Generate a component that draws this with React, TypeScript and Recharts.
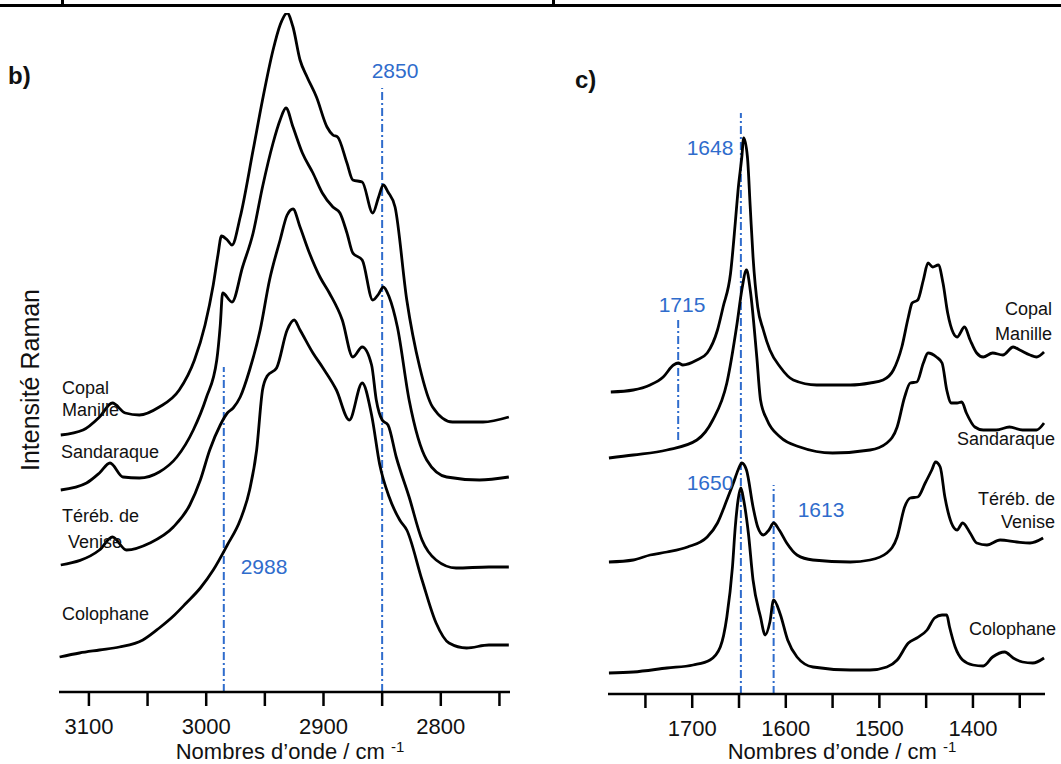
import React from "react";
import { LineChart, Line, XAxis, YAxis, ReferenceLine } from "recharts";

type Pt = [number, number];

// b) region C-H, wavenumber (cm-1) / relative intensity (stacked)
const copalCH: Pt[] = [
  [3124, 257], [3105, 262], [3091, 275], [3080, 289], [3069, 279], [3057, 277], [3040, 285],
  [3023, 302], [3010, 332], [3001, 367], [2994, 407], [2990, 437], [2987, 456], [2982, 452],
  [2978, 447], [2971, 475], [2960, 542], [2952, 592], [2943, 642], [2937, 667], [2931, 679],
  [2926, 665], [2920, 632], [2914, 615], [2906, 595], [2897, 565], [2892, 557], [2888, 555],
  [2880, 529], [2875, 512], [2867, 510], [2858, 479], [2853, 495], [2849, 507], [2845, 500],
  [2839, 485], [2829, 392], [2818, 325], [2807, 285], [2790, 270], [2764, 270], [2742, 275],
];
const sandaraqueCH: Pt[] = [
  [3124, 202], [3102, 209], [3091, 219], [3082, 229], [3071, 215], [3057, 214], [3040, 220],
  [3025, 235], [3011, 262], [3000, 294], [2991, 332], [2988, 367], [2986, 399], [2978, 390],
  [2969, 425], [2960, 459], [2952, 505], [2943, 549], [2937, 572], [2932, 584], [2926, 565],
  [2918, 539], [2909, 519], [2901, 499], [2892, 485], [2886, 479], [2880, 459], [2875, 439],
  [2867, 432], [2858, 392], [2853, 398], [2849, 405], [2844, 395], [2837, 365], [2827, 292],
  [2812, 232], [2795, 215], [2767, 212], [2742, 215],
];
const terebCH: Pt[] = [
  [3124, 127], [3091, 142], [3080, 155], [3068, 142], [3048, 149], [3028, 165], [3014, 187],
  [3005, 212], [2997, 242], [2988, 267], [2982, 279], [2977, 284], [2971, 295], [2963, 322],
  [2954, 362], [2946, 412], [2937, 452], [2931, 477], [2926, 483], [2920, 465], [2912, 439],
  [2903, 415], [2895, 399], [2884, 372], [2875, 335], [2867, 345], [2859, 327], [2855, 292],
  [2850, 272], [2845, 267], [2838, 235], [2827, 195], [2816, 152], [2804, 132], [2787, 124],
  [2759, 125], [2742, 125],
];
const colophaneCH: Pt[] = [
  [3125, 35], [3108, 39], [3091, 42], [3074, 45], [3054, 52], [3040, 64], [3027, 77],
  [3017, 89], [3005, 104], [2994, 122], [2982, 147], [2971, 172], [2963, 202], [2957, 242],
  [2952, 302], [2948, 316], [2940, 324], [2931, 362], [2925, 372], [2920, 362], [2909, 339],
  [2901, 325], [2889, 302], [2878, 272], [2867, 309], [2859, 277], [2852, 227], [2844, 195],
  [2835, 172], [2829, 162], [2816, 112], [2804, 69], [2793, 49], [2778, 44], [2759, 47],
  [2742, 47],
];

// c) region 1800-1320 cm-1
const copalCC: Pt[] = [
  [1787, 302], [1763, 304], [1745, 309], [1731, 317], [1720, 329], [1715, 331], [1710, 329],
  [1695, 334], [1684, 341], [1673, 364], [1667, 387], [1659, 421], [1654, 471], [1651, 504],
  [1647, 537], [1645, 556], [1641, 537], [1638, 487], [1635, 437], [1630, 387], [1624, 364],
  [1617, 344], [1606, 327], [1592, 314], [1567, 309], [1531, 309], [1510, 311], [1496, 314],
  [1485, 324], [1476, 347], [1469, 377], [1465, 391], [1459, 394], [1453, 414], [1448, 431],
  [1443, 427], [1437, 429], [1432, 411], [1427, 381], [1421, 361], [1417, 357], [1409, 367],
  [1403, 354], [1396, 341], [1389, 337], [1379, 341], [1368, 339], [1357, 347], [1350, 344],
  [1339, 339], [1332, 337], [1324, 342],
];
const sandaraqueCC: Pt[] = [
  [1789, 236], [1763, 239], [1727, 244], [1695, 254], [1678, 274], [1663, 311], [1652, 371],
  [1647, 404], [1642, 424], [1638, 404], [1631, 337], [1627, 294], [1620, 274], [1606, 257],
  [1585, 247], [1550, 241], [1510, 244], [1492, 251], [1481, 267], [1473, 297], [1467, 311],
  [1460, 312], [1453, 331], [1448, 341], [1439, 337], [1433, 331], [1428, 304], [1423, 291],
  [1417, 291], [1412, 292], [1407, 281], [1398, 267], [1389, 264], [1375, 264], [1361, 267],
  [1347, 264], [1332, 264], [1324, 271],
];
const terebCC: Pt[] = [
  [1789, 132], [1763, 134], [1745, 139], [1727, 142], [1705, 147], [1684, 157], [1673, 171],
  [1663, 194], [1656, 211], [1651, 224], [1647, 231], [1642, 224], [1635, 187], [1630, 167],
  [1624, 159], [1618, 164], [1613, 171], [1607, 164], [1599, 151], [1588, 139], [1571, 134],
  [1531, 132], [1510, 134], [1492, 141], [1481, 157], [1473, 187], [1467, 196], [1459, 197],
  [1451, 211], [1444, 224], [1440, 232], [1435, 227], [1430, 197], [1423, 171], [1417, 164],
  [1411, 171], [1403, 161], [1396, 151], [1385, 149], [1371, 154], [1353, 152], [1339, 151],
  [1325, 156],
];
const colophaneCC: Pt[] = [
  [1789, 21], [1763, 22], [1727, 26], [1699, 29], [1681, 34], [1670, 47], [1663, 77],
  [1657, 127], [1654, 167], [1651, 194], [1648, 206], [1645, 194], [1640, 161], [1635, 114],
  [1627, 77], [1622, 59], [1617, 72], [1613, 94], [1606, 80], [1598, 54], [1588, 37],
  [1571, 27], [1531, 24], [1510, 24], [1492, 27], [1481, 34], [1469, 51], [1460, 56],
  [1449, 64], [1441, 76], [1433, 79], [1428, 79], [1425, 67], [1419, 47], [1411, 34],
  [1400, 29], [1389, 28], [1379, 37], [1366, 42], [1357, 36], [1347, 32], [1336, 31],
  [1324, 36],
];

const ticksCH = [3100, 3050, 3000, 2950, 2900, 2850, 2800, 2750];
const ticksCC = [1750, 1700, 1650, 1600, 1550, 1500, 1450, 1400, 1350];

// dashed markers: position, label, intensity span
const marksCH = [
  { w: 2850, label: "2850", y0: 0, y1: 604 },
  { w: 2985, label: "2988", y0: 0, y1: 325 },
];
const marksCC = [
  { w: 1648, label: "1648", y0: 0, y1: 581 },
  { w: 1613, label: "1613", y0: 0, y1: 209 },
  { w: 1715, label: "1715", y0: 254, y1: 374 },
];

const BLUE = "#2f6ccc";
const FONT = "'Liberation Sans', Arial, Helvetica, sans-serif";

const toRows = (pts: Pt[]) => pts.map(([w, v]) => ({ w, v }));

function Panel({ left, width, margin, xDomain, yMax, ticks, series, marks }: any) {
  return (
    <div style={{ position: "absolute", left, top: 0 }}>
      <LineChart width={width} height={764} margin={margin}>
        <XAxis
          type="number"
          dataKey="w"
          domain={xDomain}
          reversed
          allowDataOverflow
          ticks={ticks}
          interval={0}
          tickFormatter={(t: number) => (t % 100 === 0 ? String(t) : "")}
          height={60}
          tickSize={14}
          tickMargin={12}
          axisLine={{ stroke: "#000", strokeWidth: 2.5 }}
          tickLine={{ stroke: "#000", strokeWidth: 2.5 }}
          tick={{ fill: "#111", fontSize: 22, fontFamily: FONT }}
        />
        <YAxis
          type="number"
          domain={[0, yMax]}
          allowDataOverflow
          width={0}
          tick={false}
          tickLine={false}
          axisLine={{ stroke: "#000", strokeWidth: 2.5 }}
        />
        {marks.map((m: any) => (
          <ReferenceLine
            key={m.label}
            segment={[{ x: m.w, y: m.y0 }, { x: m.w, y: m.y1 }]}
            stroke={BLUE}
            strokeWidth={2}
            strokeDasharray="8 3 2 3"
          />
        ))}
        {series.map((s: Pt[], i: number) => (
          <Line
            key={i}
            data={toRows(s)}
            dataKey="v"
            type="monotone"
            stroke="#000"
            strokeWidth={2.8}
            dot={false}
            isAnimationActive={false}
          />
        ))}
      </LineChart>
    </div>
  );
}

function Txt({ x, y, children, size = 18, color = "#111", anchor = "start", weight = 400 }: any) {
  const tx = anchor === "end" ? "-100%" : anchor === "middle" ? "-50%" : "0";
  return (
    <div
      style={{
        position: "absolute",
        left: x,
        top: y,
        transform: `translate(${tx}, -50%)`,
        fontSize: size,
        color,
        fontWeight: weight,
        lineHeight: 1.3,
        whiteSpace: "nowrap",
      }}
    >
      {children}
    </div>
  );
}

const XTitle = () => (
  <span>
    Nombres d’onde / cm <span style={{ fontSize: 15, position: "relative", top: -7 }}>-1</span>
  </span>
);

export default function App() {
  return (
    <div
      style={{
        position: "absolute",
        left: 0,
        top: 0,
        width: 1061,
        height: 764,
        background: "#fff",
        fontFamily: FONT,
        overflow: "hidden",
      }}
    >
      <div style={{ position: "absolute", left: 0, top: 4, width: 1061, height: 3, background: "#000" }} />
      <div style={{ position: "absolute", left: 61, top: 0, width: 3, height: 5, background: "#000" }} />
      <div style={{ position: "absolute", left: 552, top: 0, width: 3, height: 5, background: "#000" }} />

      <Panel
        left={0}
        width={530}
        margin={{ top: 13, right: 20, bottom: 12, left: 59 }}
        xDomain={[2741, 3125.5]}
        yMax={679}
        ticks={ticksCH}
        series={[copalCH, sandaraqueCH, terebCH, colophaneCH]}
        marks={marksCH}
      />
      <Panel
        left={530}
        width={531}
        margin={{ top: 97, right: 16, bottom: 10, left: 78 }}
        xDomain={[1323, 1790]}
        yMax={597}
        ticks={ticksCC}
        series={[copalCC, sandaraqueCC, terebCC, colophaneCC]}
        marks={marksCC}
      />

      <Txt x={8} y={76} size={24} weight={700}>b)</Txt>
      <Txt x={575} y={80} size={24} weight={700}>c)</Txt>

      <div
        style={{
          position: "absolute",
          left: 30,
          top: 380,
          transform: "translate(-50%, -50%) rotate(-90deg)",
          fontSize: 25,
          lineHeight: 1.3,
          color: "#111",
          whiteSpace: "nowrap",
        }}
      >
        Intensité Raman
      </div>

      <Txt x={290} y={752} size={22} anchor="middle"><XTitle /></Txt>
      <Txt x={842} y={752} size={22} anchor="middle"><XTitle /></Txt>

      <Txt x={62} y={389} size={18}>Copal</Txt>
      <Txt x={62} y={411} size={18}>Manille</Txt>
      <Txt x={61} y={453} size={18}>Sandaraque</Txt>
      <Txt x={62} y={517} size={18}>Téréb. de</Txt>
      <Txt x={68} y={543} size={18}>Venise</Txt>
      <Txt x={62} y={615} size={18}>Colophane</Txt>

      <Txt x={1052} y={310} size={18} anchor="end">Copal</Txt>
      <Txt x={1052} y={335} size={18} anchor="end">Manille</Txt>
      <Txt x={1055} y={440} size={18} anchor="end">Sandaraque</Txt>
      <Txt x={1055} y={500} size={18} anchor="end">Téréb. de</Txt>
      <Txt x={1055} y={523} size={18} anchor="end">Venise</Txt>
      <Txt x={1056} y={630} size={18} anchor="end">Colophane</Txt>

      <Txt x={395} y={71} size={21} color={BLUE} anchor="middle">2850</Txt>
      <Txt x={264} y={567} size={21} color={BLUE} anchor="middle">2988</Txt>
      <Txt x={710} y={148} size={21} color={BLUE} anchor="middle">1648</Txt>
      <Txt x={682} y={305} size={21} color={BLUE} anchor="middle">1715</Txt>
      <Txt x={710} y={483} size={21} color={BLUE} anchor="middle">1650</Txt>
      <Txt x={821} y={510} size={21} color={BLUE} anchor="middle">1613</Txt>
    </div>
  );
}
